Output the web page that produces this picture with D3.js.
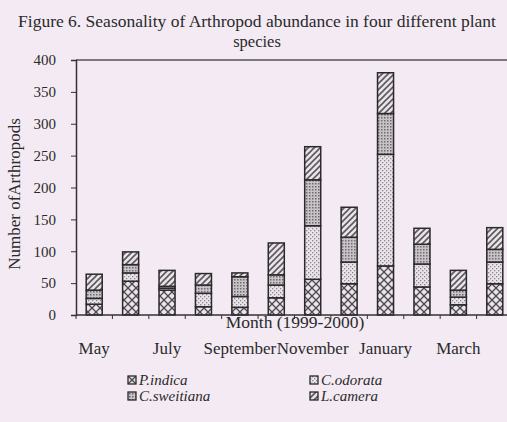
<!DOCTYPE html>
<html><head><meta charset="utf-8">
<script src="https://cdn.jsdelivr.net/npm/d3@7"></script>
<style>
html,body{margin:0;padding:0;background:#f4eaf4;}
svg{display:block;}
text{font-family:"Liberation Serif","Times New Roman",serif;fill:#2a2a2a;}
</style></head>
<body>
<svg id="c" width="507" height="422"></svg>
<script>
const months = ["May","June","July","August","September","October","November","December","January","February","March","April"];
const shownLabels = ["May","July","September","November","January","March"];
const seriesNames = ["P.indica","C.odorata","C.sweitiana","L.camera"];
const pIndica    = [17, 53, 39, 13, 12, 27, 56, 49, 77, 44, 16, 49];
const cOdorata   = [ 9, 13,  3, 21, 17, 20, 84, 34,175, 36, 12, 34];
const cSweitiana = [13, 13,  3, 13, 31, 16, 72, 39, 64, 31, 11, 20];
const lCamera    = [25, 20, 25, 18,  6, 50, 52, 47, 64, 25, 31, 34];
const yTicks = [0,50,100,150,200,250,300,350,400];

const svg = d3.select("#c");
const defs = svg.append("defs");
const bg = "#ece2ec";
function pat(id,w,h,draw){
  const p = defs.append("pattern").attr("id",id).attr("patternUnits","userSpaceOnUse").attr("width",w).attr("height",h);
  p.append("rect").attr("width",w).attr("height",h).attr("fill",bg);
  draw(p);
}
pat("pCross",8,8,p=>{
  p.append("path").attr("d","M0,0L8,8M8,0L0,8").attr("stroke","#4a4a4a").attr("stroke-width",1.3);
});
pat("pDots",4,4,p=>{
  p.append("rect").attr("x",0).attr("y",0).attr("width",1.3).attr("height",1.3).attr("fill","#8a8a8a");
  p.append("rect").attr("x",2).attr("y",2).attr("width",1.3).attr("height",1.3).attr("fill","#8a8a8a");
});
pat("pGrid",3,3,p=>{
  p.select("rect").attr("fill","#c9c2c8");
  p.append("rect").attr("x",0).attr("y",0).attr("width",1.5).attr("height",1.5).attr("fill","#6d6d6d");
});
pat("pHatch",6,6,p=>{
  p.append("path").attr("d","M-1,7L7,-1M-1,1L1,-1M5,7L7,5").attr("stroke","#5a5a5a").attr("stroke-width",1.6);
});
const fills = ["url(#pCross)","url(#pDots)","url(#pGrid)","url(#pHatch)"];

const x = d3.scaleBand().domain(months).range([76,513]).paddingInner(0.56).paddingOuter(0.28);
const y = d3.scaleLinear().domain([0,400]).range([315,60]);

const table = months.map((m,i)=>({month:m,"P.indica":pIndica[i],"C.odorata":cOdorata[i],"C.sweitiana":cSweitiana[i],"L.camera":lCamera[i]}));
const stack = d3.stack().keys(seriesNames)(table);

svg.append("line").attr("x1",76).attr("x2",513).attr("y1",y(400)).attr("y2",y(400)).attr("stroke","#555").attr("stroke-width",1.3);

const ya = svg.append("g").attr("transform","translate(76,0)").call(d3.axisLeft(y).tickValues(yTicks).tickSize(5).tickPadding(15));
ya.select(".domain").attr("stroke","#333").attr("stroke-width",1.5);
ya.selectAll(".tick line").attr("stroke","#333");
ya.selectAll("text").style("font-size","15px").style("font-family","Liberation Serif").attr("fill","#2a2a2a");

const g = svg.append("g");
stack.forEach((s,k)=>{
  g.selectAll(null).data(s).enter().append("rect")
   .attr("x",d=>x(d.data.month)).attr("width",x.bandwidth())
   .attr("y",d=>y(d[1])).attr("height",d=>y(d[0])-y(d[1]))
   .attr("fill",fills[k]).attr("stroke","#2a2a2a").attr("stroke-width",1.5);
});

svg.append("line").attr("x1",76).attr("x2",513).attr("y1",y(0)).attr("y2",y(0)).attr("stroke","#333").attr("stroke-width",1.5);
const step = x.step(), off = (step - x.bandwidth())/2;
const tickXs = months.map(m=>x(m)-off).concat([x(months[months.length-1])+x.bandwidth()+off]);
svg.selectAll(null).data(tickXs).enter().append("line")
  .attr("x1",d=>d).attr("x2",d=>d).attr("y1",y(0)).attr("y2",y(0)+4).attr("stroke","#333");
svg.selectAll(null).data(shownLabels).enter().append("text")
  .attr("x",d=>x(d)+x.bandwidth()/2).attr("y",354).attr("text-anchor","middle")
  .style("font-size","17px").text(d=>d);

svg.append("text").attr("x",295).attr("y",328).attr("text-anchor","middle").style("font-size","17.5px").text("Month (1999-2000)");
svg.append("text").attr("transform","translate(20,194) rotate(-90)").attr("text-anchor","middle").style("font-size","17px").text("Number ofArthropods");

svg.append("text").attr("x",257).attr("y",27).attr("text-anchor","middle").style("font-size","17.5px").text("Figure 6. Seasonality of Arthropod abundance in four different plant");
svg.append("text").attr("x",257).attr("y",47).attr("text-anchor","middle").style("font-size","16.5px").text("species");

const legPos = [[128,381],[310,381],[128,397],[310,397]];
seriesNames.forEach((n,k)=>{
  const [lx,ly] = legPos[k];
  svg.append("rect").attr("x",lx).attr("y",ly-5).attr("width",8).attr("height",8).attr("fill",fills[k]).attr("stroke","#2a2a2a").attr("stroke-width",1.3);
  svg.append("text").attr("x",lx+11).attr("y",ly+4).style("font-size","15px").style("font-style","italic").text(n);
});
</script>
</body></html>
